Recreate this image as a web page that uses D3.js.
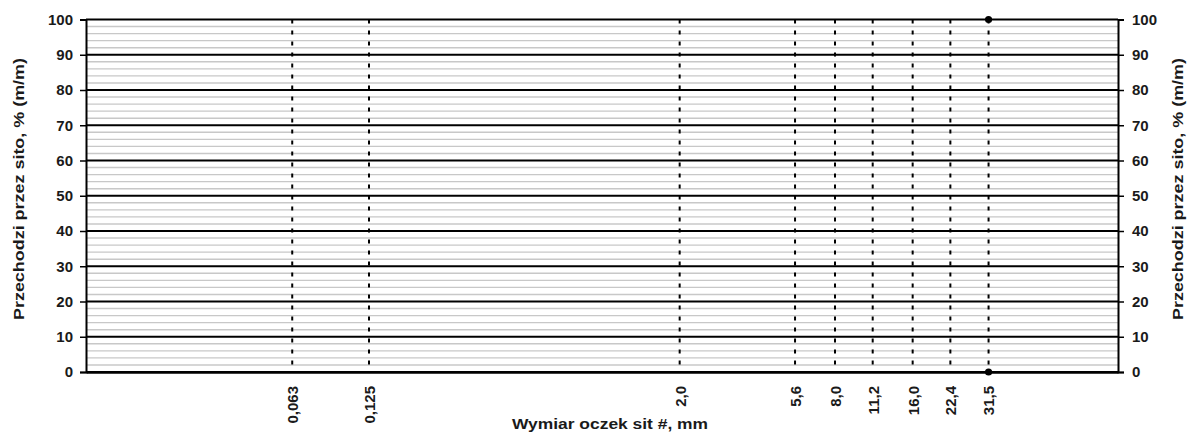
<!DOCTYPE html>
<html>
<head>
<meta charset="utf-8">
<script src="https://cdn.jsdelivr.net/npm/d3@7"></script>
<style>
  html, body { margin: 0; padding: 0; background: #fff; }
  svg { display: block; font-family: "Liberation Sans", Arial, sans-serif; }
</style>
</head>
<body>
<svg id="chart" width="1187" height="433"></svg>
<script>
// ---- data ----
const sieveSizes = [0.063, 0.125, 2.0, 5.6, 8.0, 11.2, 16.0, 22.4, 31.5];
const sieveLabels = ["0,063", "0,125", "2,0", "5,6", "8,0", "11,2", "16,0", "22,4", "31,5"];
const upperSizes = [31.5];
const upperValues = [100];
const lowerSizes = [31.5];
const lowerValues = [0];
const yTicks = [0, 10, 20, 30, 40, 50, 60, 70, 80, 90, 100];
const yMinorTicks = d3.range(0, 101, 2).filter(v => v % 10 !== 0);
const yTitle = "Przechodzi przez sito, % (m/m)";
const xTitle = "Wymiar oczek sit #, mm";

// ---- layout ----
const svg = d3.select("#chart");
const pLeft = 86, pRight = 1118, pTop = 19.5, pBottom = 372;
const x = d3.scaleLog().domain([0.01, 100]).range([pLeft, pRight]);
const y = d3.scaleLinear().domain([0, 100]).range([pBottom, pTop]);
const textColor = "#1a1a1a";

// minor grid
svg.append("g").selectAll("line").data(yMinorTicks).join("line")
  .attr("x1", pLeft).attr("x2", pRight)
  .attr("y1", d => y(d)).attr("y2", d => y(d))
  .attr("stroke", "#c8c8c8").attr("stroke-width", 1.4);

// vertical dashed sieve lines
svg.append("g").selectAll("line").data(sieveSizes).join("line")
  .attr("x1", d => x(d)).attr("x2", d => x(d))
  .attr("y1", pTop).attr("y2", pBottom)
  .attr("stroke", "#000").attr("stroke-width", 2)
  .attr("stroke-dasharray", "4,7");

// major grid
svg.append("g").selectAll("line").data(yTicks).join("line")
  .attr("x1", pLeft).attr("x2", pRight)
  .attr("y1", d => y(d)).attr("y2", d => y(d))
  .attr("stroke", "#000").attr("stroke-width", 2);

// left axis
const leftAxis = svg.append("g")
  .attr("transform", `translate(${pLeft},0)`)
  .call(d3.axisLeft(y).tickValues(yTicks).tickSize(6).tickPadding(7).tickFormat(d3.format("d")));
leftAxis.select(".domain").attr("stroke", "#000").attr("stroke-width", 2);
leftAxis.selectAll(".tick line").attr("stroke", "#000").attr("stroke-width", 1.5);
leftAxis.selectAll("text").attr("font-size", 15).attr("font-weight", "bold").attr("fill", textColor)
  .attr("font-family", "'Liberation Sans', Arial, sans-serif");

// right axis
const rightAxis = svg.append("g")
  .attr("transform", `translate(${pRight},0)`)
  .call(d3.axisRight(y).tickValues(yTicks).tickSize(6).tickPadding(8).tickFormat(d3.format("d")));
rightAxis.select(".domain").attr("stroke", "#000").attr("stroke-width", 2);
rightAxis.selectAll(".tick line").attr("stroke", "#000").attr("stroke-width", 1.5);
rightAxis.selectAll("text").attr("font-size", 15).attr("font-weight", "bold").attr("fill", textColor)
  .attr("font-family", "'Liberation Sans', Arial, sans-serif");

// bottom axis (labels only, rotated)
const bottomAxis = svg.append("g")
  .attr("transform", `translate(0,${pBottom})`)
  .call(d3.axisBottom(x).tickValues(sieveSizes).tickSize(0)
    .tickFormat((d, i) => sieveLabels[i]));
bottomAxis.select(".domain").attr("stroke", "#000").attr("stroke-width", 2.5);
bottomAxis.selectAll("text")
  .attr("font-size", 15).attr("font-weight", "bold").attr("fill", textColor)
  .attr("font-family", "'Liberation Sans', Arial, sans-serif")
  .attr("text-anchor", "end")
  .attr("transform", "translate(0,14) rotate(-90)")
  .attr("x", 0).attr("y", 0).attr("dy", "0.36em");

// points
svg.append("g").selectAll("circle").data(upperSizes.map((s, i) => [s, upperValues[i]])).join("circle")
  .attr("cx", d => x(d[0])).attr("cy", d => y(d[1])).attr("r", 3.6).attr("fill", "#000");
svg.append("g").selectAll("circle").data(lowerSizes.map((s, i) => [s, lowerValues[i]])).join("circle")
  .attr("cx", d => x(d[0])).attr("cy", d => y(d[1])).attr("r", 3.6).attr("fill", "#000");

// titles
svg.append("text")
  .attr("transform", "translate(24,189) rotate(-90)")
  .attr("text-anchor", "middle")
  .attr("font-size", 15).attr("font-weight", "bold").attr("fill", textColor)
  .attr("textLength", 262).attr("lengthAdjust", "spacingAndGlyphs")
  .text(yTitle);
svg.append("text")
  .attr("transform", "translate(1183,189) rotate(-90)")
  .attr("text-anchor", "middle")
  .attr("font-size", 15).attr("font-weight", "bold").attr("fill", textColor)
  .attr("textLength", 262).attr("lengthAdjust", "spacingAndGlyphs")
  .text(yTitle);
svg.append("text")
  .attr("x", 610).attr("y", 429)
  .attr("text-anchor", "middle")
  .attr("font-size", 14).attr("font-weight", "bold").attr("fill", textColor)
  .attr("textLength", 196).attr("lengthAdjust", "spacingAndGlyphs")
  .text(xTitle);
</script>
</body>
</html>
